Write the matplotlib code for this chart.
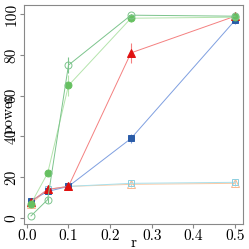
import numpy as np
import matplotlib
matplotlib.use('Agg')
import matplotlib.pyplot as plt

plt.rcParams['font.family'] = 'cmr10'
plt.rcParams['axes.formatter.use_mathtext'] = True
plt.rcParams['mathtext.fontset'] = 'cm'

# Power values at each r
r = [0.01, 0.05, 0.1, 0.25, 0.5]
green_open = [1, 9, 75, 99.5, 99]
green_open_err = [0, 1.5, 4, 0.5, 0.5]
green_fill = [7, 22, 65, 98, 98.5]
green_fill_err = [0, 1.5, 5, 2, 1.5]
red_tri = [8, 14, 15.5, 81, 99]
red_tri_err = [0, 1.5, 1, 5, 1]
blue_sq = [8.5, 13, 15.5, 39, 97]
blue_sq_err = [0, 1, 1, 2, 2]
cyan_sq = [8, 14, 15.5, 17, 17.5]
cyan_sq_err = [0, 1, 1, 1.5, 1.5]
orange_tri = [7, 14, 15.5, 16.5, 17]
orange_tri_err = [0, 1, 1, 1.5, 1.5]

fig = plt.figure(figsize=(2.49, 2.49), dpi=100)
ax = fig.add_axes([0.096, 0.10, 0.88, 0.88])

# (values, errors, line colour, marker, marker face, marker edge, marker size)
series = [
    (orange_tri, orange_tri_err, '#fcc9a4', '^', 'none', '#f8b890', 5.5),
    (cyan_sq, cyan_sq_err, '#a8e0ec', 's', 'none', '#8ccfe0', 4.5),
    (blue_sq, blue_sq_err, '#7f9fe0', 's', '#2a5ca8', '#2a5ca8', 4.5),
    (red_tri, red_tri_err, '#f48080', '^', '#e01010', '#e01010', 6),
    (green_fill, green_fill_err, '#b4e4ac', 'o', '#66c060', '#66c060', 5),
    (green_open, green_open_err, '#7cc48c', 'o', 'none', '#7cc48c', 5),
]
for vals, err, col, mk, face, edge, ms in series:
    ax.errorbar(r, vals, yerr=err, color=col, lw=0.7, marker=mk,
                markersize=ms, markerfacecolor=face, markeredgecolor=edge,
                markeredgewidth=0.7, elinewidth=0.8, capsize=0)

ax.set_xlim(-0.007, 0.519)
ax.set_ylim(-3, 104.5)
ax.set_xticks([0.0, 0.1, 0.2, 0.3, 0.4, 0.5])
ax.set_xticklabels(['0.0', '0.1', '0.2', '0.3', '0.4', '0.5'])
ax.set_yticks([0, 20, 40, 60, 80, 100])
ax.set_yticklabels(['0', '20', '40', '60', '80', '100'], rotation=90, va='center')
ax.tick_params(labelsize=11, color='#888888', length=3, pad=1)
for s in ax.spines.values():
    s.set_color('#888888')
ax.set_xlabel('r', fontsize=11, labelpad=-5)
ax.set_ylabel('power', fontsize=11, labelpad=-8)

fig.savefig('out.png', dpi=100)
